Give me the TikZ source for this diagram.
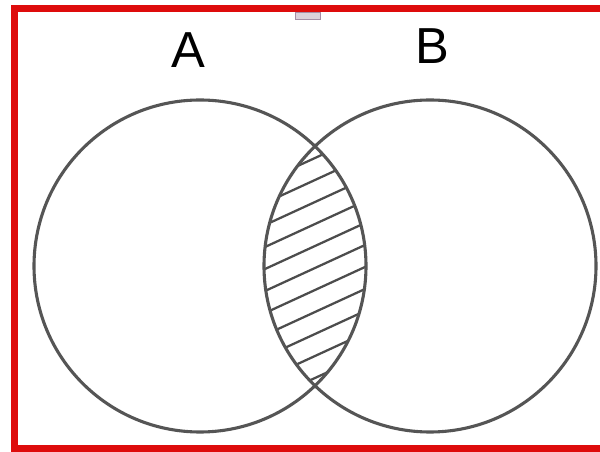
\documentclass[tikz,border=0pt]{standalone}
\usepackage{fontspec}
\setmainfont{Liberation Sans}
\usepackage{tikz}
\usetikzlibrary{positioning}
\definecolor{frame}{RGB}{222,12,12}
\definecolor{ink}{RGB}{85,85,85}
\definecolor{tick}{RGB}{165,140,165}

\begin{document}
\begin{tikzpicture}[
  x=0.025cm, y=-0.025cm,
  setline/.style={draw=ink, line width=2.2pt},
  hatch/.style={draw=ink!90!black, line width=1.6pt},
  setname/.style={font=\fontsize{36}{40}\selectfont, text=black, inner sep=0pt},
]
\useasboundingbox (0,0) rectangle (600,452);
\fill[white] (0,0) rectangle (600,452);
\draw[frame, line width=7*0.025cm] (600,8.5) -- (14.5,8.5) -- (14.5,448.5) -- (600,448.5);
\draw[tick, fill=tick!40, line width=0.6pt] (295,12) rectangle (320,19);

\coordinate (ca) at (200,266);
\coordinate (cb) at (430,266);
\node[setname] (la) at (188,50) {A};
\node[setname] (lb) at (432,46) {B};

% hatch the overlap
\begin{scope}
  \clip (ca) circle[radius=166];
  \clip (cb) circle[radius=166];
  \foreach \k in {-7,...,7}
    \draw[hatch] (220,{268+\k*22+0.46*95}) -- (410,{268+\k*22-0.46*95});
\end{scope}

\draw[setline] (ca) circle[radius=166];
\draw[setline] (cb) circle[radius=166];
\end{tikzpicture}
\end{document}
